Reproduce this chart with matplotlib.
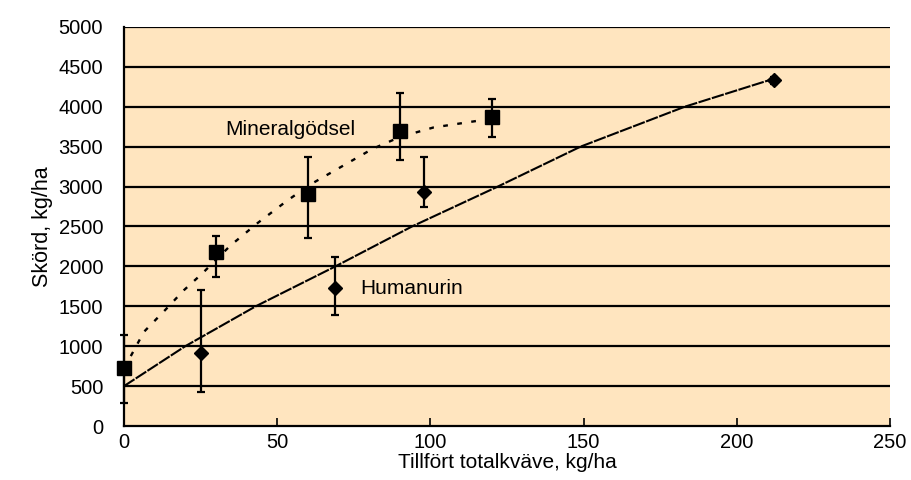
import matplotlib
matplotlib.use('Agg')
from matplotlib import pyplot as plt

plt.rcParams['font.family'] = ['Liberation Sans', 'DejaVu Sans']

# Mineralgödsel, measured points
minX = [0, 30, 60, 90, 120]
minY = [725, 2180, 2910, 3690, 3870]
minLow = [435, 315, 560, 355, 250]
minHigh = [415, 200, 460, 480, 230]

# Humanurin, measured points
humX = [25, 69, 98, 212]
humY = [920, 1730, 2930, 4330]
humLow = [490, 345, 190, 40]
humHigh = [790, 385, 435, 40]

# fitted curves
minCurveX = [0, 6.5, 13.6, 19.5, 25.5, 34.7, 43.5, 53.3, 61, 81, 90, 101, 120]
minCurveY = [720, 1180, 1460, 1700, 1910, 2260, 2540, 2825, 3030, 3470, 3620, 3740, 3850]
humCurveX = [0, 20, 43, 69, 94, 122, 149, 183, 212]
humCurveY = [500, 1000, 1500, 2000, 2500, 3000, 3500, 4000, 4350]

xTicks = [0, 50, 100, 150, 200, 250]
yTicks = [0, 500, 1000, 1500, 2000, 2500, 3000, 3500, 4000, 4500, 5000]

fig = plt.figure(figsize=(9.12, 4.8), dpi=100)
ax = fig.add_axes([0.136, 0.1125, 0.84, 0.8315])
ax.set_facecolor('#FFE5BF')

for y in yTicks[1:]:
    ax.axhline(y, color='black', lw=1.6, zorder=1)

ax.plot(minCurveX, minCurveY, color='black', lw=1.7, linestyle=(0, (2, 4)), zorder=2)
ax.plot(humCurveX, humCurveY, color='black', lw=1.5, linestyle=(0, (6, 0.7)), zorder=2)

ax.errorbar(minX, minY, yerr=[minLow, minHigh], fmt='s', color='black', ms=10,
            ecolor='black', elinewidth=1.6, capsize=3, capthick=1.6, zorder=3, clip_on=False)
ax.errorbar(humX, humY, yerr=[humLow, humHigh], fmt='D', color='black', ms=7,
            ecolor='black', elinewidth=1.6, capsize=3, capthick=1.6, zorder=3, clip_on=False)

ax.text(33, 3720, 'Mineralgödsel', fontsize=15, va='center', ha='left')
ax.text(77, 1725, 'Humanurin', fontsize=15, va='center', ha='left')

ax.set_xlim(0, 250)
ax.set_ylim(0, 5000)
ax.set_xticks(xTicks)
ax.set_yticks(yTicks)
ax.tick_params(axis='x', direction='in', length=6, width=1.2, labelsize=14.5, pad=5)
ax.tick_params(axis='y', length=0, labelsize=14.5, pad=15)
for s in ['top', 'right']:
    ax.spines[s].set_visible(False)
for s in ['left', 'bottom']:
    ax.spines[s].set_linewidth(1.6)

ax.set_xlabel('Tillfört totalkväve, kg/ha', fontsize=15, labelpad=1)
ax.set_ylabel('Skörd, kg/ha', fontsize=15.5, labelpad=4)

plt.savefig('out.png', dpi=100)
